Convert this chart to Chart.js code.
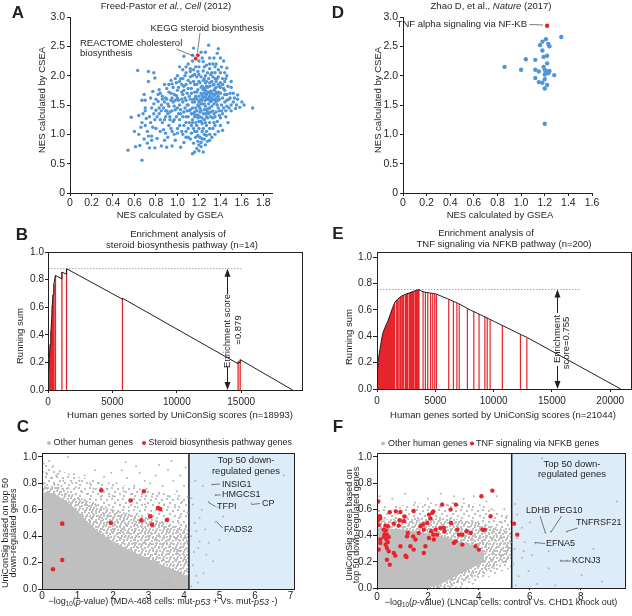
<!DOCTYPE html>
<html>
<head>
<meta charset="utf-8">
<script src="https://cdn.jsdelivr.net/npm/chart.js@4.4.1/dist/chart.umd.min.js"></script>
<style>
html, body { margin: 0; padding: 0; background: #fff; }
#wrap { position: relative; width: 632px; height: 616px; overflow: hidden; }
canvas { position: absolute; }
</style>
</head>
<body>
<div id="wrap">
<canvas id="panelA"></canvas>
<canvas id="panelD"></canvas>
<canvas id="panelB"></canvas>
<canvas id="panelE"></canvas>
<canvas id="panelC"></canvas>
<canvas id="panelF"></canvas>
</div>
<script>
// ---- A: NES by GSEA (x) vs NES by CSEA (y), Freed-Pastor 2012 gene sets
var nesA = [
  [0.54,0.73],[0.57,1.29],[0.61,0.79],[0.65,0.81],[0.63,2.09],[0.67,0.56],[0.71,1.27],[0.73,2.07],[0.78,2.05],[0.79,1.96],
  [0.73,1.9],[0.74,0.77],[0.79,0.77],[0.72,1.05],[0.73,0.97],[0.76,0.97],[0.77,1.12],[0.78,1.52],[0.75,1.62],[0.77,1.73],
  [0.8,1.41],[0.82,1.56],[0.83,1.76],[0.8,1.1],[0.81,0.93],[0.85,0.8],[0.88,0.9],[0.9,0.78],[0.95,0.8],[0.98,0.9],
  [1.03,0.78],[1.06,0.86],[1.14,0.67],[1.16,0.7],[1.18,0.76],[1.2,0.72],[1.22,0.79],[1.24,0.7],[1.19,0.88],[1.21,0.95],
  [1.23,0.92],[1.25,1.0],[1.27,1.05],[1.3,1.0],[1.33,1.1],[1.42,1.07],[1.46,2.13],[1.43,2.25],[1.38,2.46],[1.29,2.52],
  [1.15,2.47],[1.06,2.33],[1.07,2.0],[1.7,1.45],[1.58,1.46],[1.54,1.44],[1.56,1.67],[1.56,1.6],[1.49,1.7],[1.49,1.62],
  [1.5,1.5],[1.47,1.82],[1.45,1.95],[1.4,2.05],[1.37,2.38],[1.33,2.2],[1.3,2.3],[1.27,2.18],[1.24,2.24],[1.12,2.12],
  [1.12,2.07],[1.19,2.07],[1.0,2.0],[0.98,1.95],[0.95,1.86],[0.9,1.78],[0.88,1.85],[0.86,1.65],[0.87,1.45],[0.89,1.3],
  [0.86,1.2],[0.92,1.15],[0.95,1.05],[0.97,1.0],[1.0,1.1],[1.02,1.15],[1.05,1.0],[1.08,1.05],[1.1,0.95],[1.13,1.02],
  [1.15,1.1],[1.17,1.2],[0.67,1.58],[0.7,1.45],[0.69,1.68],[0.75,1.2],[0.7,1.15],[0.64,1.32],
  [1.1,1.3],[1.12,1.42],[1.14,1.55],[1.16,1.38],[1.18,1.6],[1.2,1.48],[1.22,1.7],[1.24,1.35],[1.26,1.58],[1.28,1.8],
  [1.3,1.65],[1.32,1.9],[1.34,1.75],[1.36,1.55],[1.38,1.85],[1.4,1.7],[1.11,1.65],[1.13,1.78],[1.15,1.9],[1.17,1.45],
  [1.19,1.33],[1.21,1.58],[1.23,1.82],[1.25,1.95],[1.27,1.42],[1.29,1.52],[1.31,1.38],[1.33,1.6],[1.35,1.68],[1.37,1.95],
  [1.39,1.6],[1.41,1.5],[1.1,1.5],[1.12,1.88],[1.14,1.25],[1.16,1.72],[1.18,1.85],[1.2,1.22],[1.22,1.4],[1.24,1.63],
  [1.26,1.75],[1.28,1.28],[1.3,1.82],[1.32,1.48],[1.34,1.35],[1.36,1.8],[1.38,1.72],[1.4,1.88],[1.25,1.52],[1.27,1.68],
  [1.29,1.95],[1.31,2.02],[1.33,1.98],[1.35,2.05],[1.28,2.05],[1.26,1.88],[1.22,1.98],[1.2,1.9],[1.18,1.72],[1.16,1.55],
  [1.14,1.45],[1.12,1.6],[1.19,1.5],[1.21,1.3],[1.23,1.52],[1.3,1.45],[1.32,1.7],[1.34,1.85],[1.36,1.62],[1.38,1.45],
  [1.42,1.62],[1.43,1.78],[1.44,1.55],[1.45,1.4],[1.42,1.35],[1.4,1.28],[1.37,1.22],[1.35,1.15],[1.33,1.28],[1.3,1.2],
  [1.27,1.15],[1.25,1.25],[1.23,1.18],[1.2,1.1],[1.18,1.05],[1.24,1.1],[1.28,1.38],[1.3,1.58],[1.26,1.35],[1.22,1.6],
  [1.16,1.85],[1.14,2.0],[1.18,1.98],[1.24,2.08],[1.3,2.12],[1.35,1.95],[1.29,1.72],[1.27,1.6],[1.17,1.65],[1.15,1.35],
  [1.13,1.15],[1.11,1.2],
  [0.9,1.6],[0.92,1.48],[0.94,1.7],[0.96,1.55],[0.98,1.42],[1.0,1.62],[1.02,1.5],[1.04,1.72],[1.06,1.38],[1.08,1.58],
  [0.91,1.35],[0.93,1.25],[0.95,1.4],[0.97,1.68],[0.99,1.3],[1.01,1.8],[1.03,1.35],[1.05,1.55],[1.07,1.45],[1.09,1.7],
  [0.88,1.55],[0.9,1.4],[0.94,1.58],[0.96,1.22],[1.0,1.45],[1.02,1.25],[1.04,1.6],[1.06,1.82],[1.08,1.3],[1.0,1.75],
  [0.98,1.58],[0.96,1.8],[0.92,1.72],[0.85,1.5],[0.83,1.35],[0.84,1.25],[0.8,1.6],[0.82,1.68],[0.78,1.35],[0.79,1.25],
  [0.76,1.45],[0.74,1.3],[0.7,1.4],[0.68,1.35],[0.7,1.58],[0.67,1.2],[0.66,1.12],[0.64,1.0],[0.6,1.05],[0.69,0.92],
  [0.72,0.85],[0.76,0.9],[0.84,1.05],[0.87,1.08],[0.89,1.02],[0.91,0.95],[0.94,1.1],[1.06,1.15],[1.08,1.2],[1.1,1.1],
  [1.44,1.68],[1.46,1.58],[1.48,1.45],[1.44,1.9],[1.46,2.0],[1.5,1.4],[1.52,1.55],[1.55,1.5],[1.42,1.95],[1.41,2.15],
  [1.38,2.1],[1.36,2.2],[1.34,2.3],[1.4,1.15],[1.38,1.05],[1.45,1.3],[1.47,1.2],[1.35,1.0],[1.32,0.95],[1.28,0.88],
  [1.26,0.82],[1.2,0.82],[1.22,0.86],[1.05,1.95],[1.08,2.05],[1.1,1.92],[1.02,2.15],[1.1,2.2],[1.15,2.1],[1.2,2.15],
  [1.23,2.3],[1.26,2.4],[1.14,2.25],
  [1.17,1.62],[1.19,1.76],[1.21,1.88],[1.23,1.66],[1.25,1.78],[1.27,1.9],[1.29,1.62],[1.31,1.74],[1.33,1.84],[1.35,1.58],
  [1.37,1.7],[1.39,1.82],[1.21,1.44],[1.23,1.58],[1.25,1.7],[1.27,1.82],[1.29,1.44],[1.31,1.56],[1.33,1.68],[1.35,1.78],
  [1.37,1.5],[1.39,1.4],[1.2,1.55],[1.22,1.8],[1.24,1.92],[1.26,1.64],[1.28,1.72],[1.3,1.88],[1.32,1.62],[1.34,1.52],
  [1.36,1.9],[1.38,1.65],[1.4,1.8],[1.18,1.4],[1.2,1.65],[1.22,1.52],[1.24,1.76],[1.26,1.48],[1.28,1.6],[1.3,1.7],
  [1.32,1.58],[1.34,1.66],[1.36,1.72],[1.38,1.58],[1.16,1.3],[1.19,1.28],[1.23,1.28],[1.27,1.3],[1.31,1.3],[1.35,1.3],
  [1.15,1.6],[1.13,1.7],[1.11,1.4],[1.09,1.5],[1.07,1.62],[1.05,1.68],[1.03,1.42],[1.01,1.58],[0.99,1.66],[0.97,1.48],
  [0.95,1.62],[0.93,1.38],[0.91,1.52],[0.89,1.62],[1.1,1.78],[1.08,1.85],[1.06,1.75],[1.04,1.85],[1.02,1.9],[1.12,1.98],
  [1.16,2.02],[1.2,2.02],[1.26,2.0],[1.32,2.05],[1.38,1.98],[1.42,1.85],[1.44,1.75],[1.46,1.68],[1.48,1.6],[1.46,1.48],
  [1.43,1.45],[1.41,1.4],[1.39,1.32],[1.36,1.38],[1.33,1.4],[1.29,1.35],[1.25,1.42],[1.21,1.38],[1.17,1.32],[1.13,1.35],
  [1.09,1.4],[1.05,1.3],[1.01,1.35],[0.97,1.25],[0.93,1.3],[0.89,1.4],[1.14,1.2],[1.18,1.15],[1.22,1.22],[1.26,1.2],
  [1.3,1.1],[1.34,1.2],[1.27,0.98],[1.23,1.05],[1.19,0.98],[1.16,1.05],[1.12,0.92],[1.08,0.95],[1.04,1.05],[1.0,1.02],
  [1.15,0.85],[1.25,0.92],[1.3,0.9],[1.17,0.95],[1.35,2.15],[1.3,2.2],[1.25,2.15],[1.2,2.25],[1.17,2.15],[1.14,2.35],
  [1.22,2.4],[1.4,2.3],[1.44,2.05],[1.5,1.8],[1.52,1.7],[1.53,1.62],[1.5,1.9],[1.6,1.55],[1.62,1.5],[0.85,1.4],
  [0.83,1.45],[0.81,1.3],[0.88,1.25],[0.86,1.6],[0.84,1.7],[0.92,1.85],[0.94,1.92],[0.99,1.88],[1.03,1.95],[1.08,2.15],
  [1.05,2.1]
];
var nesAHighlight = [[1.19,2.35],[1.17,2.29]];   // KEGG steroid / REACTOME cholesterol
var ticksNesY = [0, 0.5, 1, 1.5, 2, 2.5, 3];
var ticksA_x = [0, 0.2, 0.4, 0.6, 0.8, 1.0, 1.2, 1.4, 1.6, 1.8];

// ---- D: same comparison, Zhao 2017 gene sets
var nesD = [
  [0.86,2.15],[1.0,2.1],[1.04,2.28],[1.12,2.27],[1.12,2.1],[1.15,2.07],[1.12,1.96],[1.15,1.89],[1.18,1.88],[1.2,1.94],
  [1.22,1.84],[1.2,1.78],[1.16,2.52],[1.18,2.58],[1.21,2.62],[1.23,2.54],[1.24,2.5],[1.18,2.43],[1.19,2.32],[1.22,2.34],
  [1.22,2.21],[1.19,2.15],[1.2,2.1],[1.22,2.07],[1.24,2.08],[1.23,2.04],[1.21,2.05],[1.28,2.01],[1.34,2.66],[1.2,1.18],
  [1.2,2.02]
];
var nesDHighlight = [[1.22,2.85]];   // TNF alpha signaling via NF-KB
var ticksD_x = [0, 0.2, 0.4, 0.6, 0.8, 1.0, 1.2, 1.4, 1.6];

// ---- B: running enrichment sum, steroid biosynthesis (n=14)
var runSumB = [[0,0],[40,0.11],[100,0.22],[170,0.33],[230,0.43],[290,0.52],[330,0.61],[390,0.69],[460,0.77],[580,0.83],
  [1080,0.805],[1080,0.855],[1440,0.838],[1440,0.879],[5780,0.658],[5780,0.665],[14760,0.19],[14760,0.205],
  [14920,0.197],[14920,0.22],[18993,0]];
var hitsB = [[40,0.11],[100,0.22],[170,0.33],[230,0.43],[290,0.52],[330,0.61],[390,0.69],[460,0.77],[580,0.83],
  [1080,0.855],[1440,0.879],[5780,0.665],[14760,0.205],[14920,0.22]];
var esB = 0.879;
var ticksRun_y = [0, 0.2, 0.4, 0.6, 0.8, 1.0];
var ticksB_x = [0, 5000, 10000, 15000];

// ---- E: running enrichment sum, TNF signaling via NFKB (n=200)
var runSumE = [[0,0],[30,0.12],[110,0.22],[250,0.3],[480,0.42],[700,0.47],[950,0.52],[1150,0.57],[1350,0.62],[1550,0.66],
  [1800,0.685],[2100,0.705],[2450,0.72],[2800,0.73],[3150,0.742],[3400,0.75],[3600,0.755],[3850,0.74],[4300,0.732],
  [4800,0.725],[5100,0.72],[6100,0.683],[7000,0.648],[8000,0.6],[9000,0.558],[10000,0.515],[10800,0.48],[12300,0.415],
  [12900,0.39],[20900,0]];
var denseHitsEndE = 1550;   // hits are contiguous up to this rank
var hitsE = [[1650,0.67],[1760,0.68],[1880,0.69],[2000,0.70],[2080,0.705],[2200,0.71],[2300,0.715],[2450,0.72],
  [2540,0.722],[2620,0.725],[2760,0.73],[2850,0.732],[2950,0.735],[3050,0.74],[3120,0.742],[3250,0.745],[3320,0.748],
  [3400,0.75],[3470,0.752],[3540,0.754],[3600,0.755],[3950,0.738],[4150,0.735],[4350,0.732],[4600,0.728],[4780,0.725],
  [4950,0.722],[5100,0.72],[6150,0.68],[6550,0.665],[6850,0.652],[7050,0.645],[7750,0.612],[8300,0.59],[8750,0.57],
  [9250,0.55],[9450,0.542],[9700,0.532],[10750,0.482],[12300,0.415],[12850,0.39]];
var esE = 0.755;
var ticksE_x = [0, 5000, 10000, 15000, 20000];

// ---- C: -log10 p (MDA-468) vs UniConSig score
var pathwayC = [[0.31,0.15],[0.57,0.22],[0.57,0.495],[1.67,0.747],[1.94,0.50],[2.5,0.67],[2.87,0.74],[2.8,0.52],
  [3.05,0.55],[3.1,0.487],[3.27,0.613],[3.33,0.605],[3.52,0.523]];
var otherC = [
  [0.05,0.95],[0.2,0.97],[0.31,0.93],[0.12,0.88],[0.4,0.86],[0.5,0.89],[0.73,1.0],[0.6,0.82],[0.25,0.84],[0.08,0.8],
  [0.85,0.8],[0.9,0.87],[0.35,0.79],[0.15,0.76],[0.55,0.78],[0.7,0.76],[0.95,0.77],
  [1.05,0.82],[1.2,0.86],[1.35,0.8],[1.5,0.9],[1.1,0.74],[1.3,0.72],[1.45,0.76],[1.6,0.8],[1.75,0.85],[1.85,0.76],
  [1.95,0.88],[1.65,0.7],[1.9,0.7],[1.25,0.66],[1.5,0.64],[1.8,0.62],
  [2.1,0.8],[2.25,0.9],[2.4,0.84],[2.6,0.78],[2.75,0.88],[2.9,0.82],[2.05,0.7],[2.3,0.74],[2.55,0.72],[2.8,0.7],
  [2.95,0.76],[2.2,0.64],[2.45,0.62],[2.7,0.62],[2.9,0.64],[2.35,0.96],[2.65,0.93],
  [3.05,0.8],[3.2,0.86],[3.4,0.78],[3.55,0.9],[3.7,0.82],[3.9,0.86],[4.05,0.92],[3.1,0.7],[3.3,0.72],[3.6,0.7],
  [3.8,0.74],[4.0,0.78],[3.45,0.64],[3.75,0.62],[3.95,0.66],[4.1,0.7],[3.65,0.97],[3.3,0.94],[4.1,0.58],[3.9,0.55],
  [4.05,0.48],[3.85,0.5],[3.2,0.1],[3.6,0.08],[3.9,0.12],[4.05,0.2],[3.8,0.3],[4.1,0.35],[3.4,0.05],[3.7,0.02],[4.0,0.04],
  [4.21,0.69],[4.25,0.64],[4.53,0.78],[4.79,0.79],[4.89,0.71],[4.7,0.66],[4.89,0.51],[5.9,0.65],[6.81,0.86],[4.44,0.54],
  [4.35,0.44],[4.44,0.36],[4.4,0.31],[4.82,0.21],[5.0,0.37],[4.63,0.26],[4.25,0.18],[4.35,0.1],[4.21,0.02],[4.3,0.5],
  [4.6,0.45],[4.5,0.6],[4.28,0.28],[4.55,0.12],[5.1,0.55],[4.95,0.62],[4.32,0.82],[4.2,0.4],[4.7,0.35],[4.4,0.05]
];
// outlines of the grey point cloud (light, medium and solid density)
var cloudC_light = [[0,0],[0,0.95],[0.5,0.9],[1,0.85],[2,0.8],[3,0.75],[4.14,0.7],[4.14,0]];
var cloudC_mid = [[0,0],[0,0.8],[0.5,0.77],[1,0.7],[1.5,0.64],[2,0.6],[2.5,0.57],[3,0.54],[3.5,0.5],[4.14,0.45],[4.14,0]];
var cloudC_core = [[0,0],[0,0.73],[0.2,0.73],[0.4,0.71],[0.6,0.68],[0.8,0.64],[1.0,0.59],[1.2,0.53],[1.4,0.48],
  [1.6,0.43],[2,0.36],[2.5,0.29],[3,0.23],[3.5,0.17],[4,0.11],[4.14,0.09],[4.14,0]];
var topCutC = 4.14;
var ticksC_x = [0, 1, 2, 3, 4, 5, 6, 7];

// ---- F: -log10 p (LNCap) vs UniConSig score
var pathwayF = [[0.05,0.66],[0.03,0.515],[0.11,0.547],[0.13,0.53],[0.07,0.48],[0.5,0.578],[0.74,0.585],[0.92,0.58],
  [1.08,0.545],[1.05,0.51],[1.44,0.588],[0.89,0.517],[0.85,0.476],[0.66,0.491],[0.43,0.471],[0.33,0.476],[0.26,0.445],
  [0.39,0.407],[0.46,0.39],[0.37,0.37],[0.34,0.33],[0.39,0.305],[0.46,0.28],[0.13,0.37],[0.13,0.344],[0.07,0.293],
  [0.39,0.216],[0.5,0.178],[0.66,0.267],[0.72,0.247],[0.92,0.318],[1.12,0.247],[1.16,0.237],[1.31,0.318],[1.44,0.293],
  [1.51,0.37],[1.42,0.394],[1.18,0.394],[1.21,0.42],[1.64,0.42],[1.71,0.471],[1.81,0.484],[1.84,0.445],[1.97,0.496],
  [2.04,0.56],[2.17,0.573],[2.1,0.53],[2.21,0.585],[2.13,0.433],[2.21,0.407],[2.04,0.382],[2.23,0.37],[1.9,0.318],
  [1.84,0.267],[2.3,0.445],[2.36,0.407],[2.49,0.458],[2.63,0.458],[2.65,0.433],[2.56,0.636],[2.89,0.598],[2.91,0.496],
  [3.1,0.636],[3.15,0.445],[3.02,0.344],[3.09,0.356],[3.22,0.407],[3.35,0.407],[3.35,0.331],[3.52,0.433],[3.68,0.42],
  [3.87,0.318],[4.0,0.293],[4.1,0.7],[4.14,0.445],[4.23,0.445],[4.46,0.547],[4.53,0.743],[5.38,0.491],[5.51,0.407],
  [0.3,0.41],[0.27,0.39],[0.35,0.44],[0.42,0.35]];
var otherF = [
  [0.1,0.7],[0.6,0.68],[1.11,0.72],[1.5,0.65],[2.0,0.68],[2.5,0.72],[3.02,0.7],[3.4,0.68],[3.8,0.7],[4.3,0.66],
  [4.7,0.7],[5.0,0.6],[4.9,0.5],[5.1,0.55],[2.8,0.63],[1.8,0.62],[0.9,0.61],[3.6,0.62],[4.5,0.6],[5.2,0.45],
  [5.25,0.35],[5.15,0.3],[4.9,0.25],[5.0,0.2],[4.6,0.15],
  [6.48,0.99],[9.42,0.66],[6.61,0.42],[6.83,0.43],[7.46,0.43],[6.22,0.34],[7.22,0.21],[7.46,0.21],[5.69,0.23],[5.95,0.13],
  [5.43,0.64],[5.5,0.56],[5.76,0.28],[6.08,0.25],[6.74,0.15],[5.56,0.09],[8.04,0.1],[8.83,0.05],[6.28,0.03],[7.0,0.02],
  [5.69,0.46],[6.74,0.28],[5.4,0.3],[5.5,0.38],[5.8,0.35],[6.0,0.5],[7.3,0.33],[5.35,0.18],[5.45,0.02],[8.5,0.3]
];
var cloudF_light = [[0,0],[0,0.62],[1,0.63],[2,0.65],[3,0.66],[4,0.64],[4.8,0.58],[5.29,0.52],[5.29,0.15],[4.8,0.12],
  [4,0.05],[3.5,0]];
var cloudF_mid = [[0,0],[0,0.52],[1,0.53],[2,0.54],[3,0.53],[4,0.5],[4.8,0.46],[5.29,0.42],[5.29,0.22],[4.8,0.18],
  [4,0.1],[3.3,0.04],[2.8,0]];
var cloudF_core = [[0,0],[0,0.46],[0.8,0.45],[1.6,0.43],[2.4,0.4],[3.2,0.36],[3.8,0.32],[4.2,0.28],[4.2,0.2],[3.6,0.14],
  [3,0.08],[2.4,0.02],[2,0]];
var topCutF = 5.29;
var ticksF_x = [0, 2, 4, 6, 8];

// ---------------------------------------------------------------------------
var INK = '#231f20';
var BLUE = '#4f95da';
var RED = '#e8242b';
var GREY = '#bfbfbf';
var SKY = '#dcedf9';
var FONT = '"Liberation Sans", Arial, sans-serif';
var UP = -Math.PI / 2;

function pts(a) { return a.map(function (p) { return {x: p[0], y: p[1]}; }); }

function dots(a, r, color, order) {
  return {data: pts(a), pointRadius: r, pointBackgroundColor: color, pointBorderWidth: 0,
    borderWidth: 0, order: order};
}
function path(a, color, width, order, dash) {
  return {data: pts(a), showLine: true, pointRadius: 0, borderColor: color, borderWidth: width,
    borderDash: dash || [], fill: false, order: order};
}
function area(a, fillStyle, order, mode) {
  return {data: pts(a), showLine: true, pointRadius: 0, borderWidth: 0, borderColor: 'rgba(0,0,0,0)',
    backgroundColor: fillStyle, fill: mode || 'shape', order: order};
}
function spikes(hits, color, width, order) {
  var d = [];
  hits.forEach(function (h) {
    d.push({x: h[0], y: 0}, {x: h[0], y: h[1]}, {x: h[0], y: null});
  });
  return {data: d, showLine: true, spanGaps: false, pointRadius: 0, borderColor: color,
    borderWidth: width, fill: false, order: order};
}

function speckle(n, spots) {
  var c = document.createElement('canvas');
  c.width = n; c.height = n;
  var g = c.getContext('2d');
  g.fillStyle = GREY;
  spots.forEach(function (s) { g.fillRect(s[0], s[1], 2, 2); });
  return g.createPattern(c, 'repeat');
}
var lightDots = speckle(11, [[1, 1], [7, 2], [4, 5], [9, 7], [2, 9]]);
var midDots = speckle(7, [[0, 0], [4, 1], [2, 3], [5, 4], [1, 5]]);

var fmtNes = function (v) { return v === 0 ? '0' : v.toFixed(1); };
var fmt1 = function (v) { return v.toFixed(1); };
var fmt0 = function (v) { return String(v); };

function scale(min, max, ticks, fmt, tl, pad, size, fixed, horiz) {
  return {
    type: 'linear', min: min, max: max,
    afterBuildTicks: function (s) { s.ticks = ticks.map(function (v) { return {value: v}; }); },
    afterFit: function (s) { if (horiz) s.height = fixed; else s.width = fixed; },
    grid: {drawOnChartArea: false, drawTicks: true, tickLength: tl, color: INK, lineWidth: 1},
    border: {display: true, color: INK, width: 1},
    ticks: {padding: pad, color: INK, font: {family: FONT, size: size}, callback: fmt,
      maxRotation: 0, autoSkip: false}
  };
}

function drawRich(ctx, t, x, y, size, align, rot, bold) {
  var runs = typeof t === 'string' ? [[t, '']] : t;
  function font(f) {
    var sz = f.indexOf('s') >= 0 ? size * 0.7 : size;
    return (f.indexOf('i') >= 0 ? 'italic ' : '') + (bold ? 'bold ' : '') + sz + 'px ' + FONT;
  }
  var total = 0;
  runs.forEach(function (r) { ctx.font = font(r[1]); total += ctx.measureText(r[0]).width; });
  ctx.translate(x, y);
  ctx.rotate(rot || 0);
  var cx = align === 'center' ? -total / 2 : (align === 'right' ? -total : 0);
  ctx.fillStyle = INK;
  ctx.textBaseline = 'middle';
  ctx.textAlign = 'left';
  runs.forEach(function (r) {
    ctx.font = font(r[1]);
    ctx.fillText(r[0], cx, r[1].indexOf('s') >= 0 ? size * 0.3 : 0);
    cx += ctx.measureText(r[0]).width;
  });
}

// texts, leader lines and legend dots, given in page pixels
function notesPlugin(items, ox, oy) {
  return {
    id: 'notes',
    afterDraw: function (chart) {
      var ctx = chart.ctx;
      items.forEach(function (it) {
        ctx.save();
        if (it.line) {
          ctx.strokeStyle = it.color || '#444';
          ctx.lineWidth = it.w || 0.7;
          ctx.beginPath();
          ctx.moveTo(it.line[0] - ox, it.line[1] - oy);
          ctx.lineTo(it.line[2] - ox, it.line[3] - oy);
          ctx.stroke();
        } else if (it.dot) {
          ctx.fillStyle = it.color;
          ctx.beginPath();
          ctx.arc(it.dot[0] - ox, it.dot[1] - oy, it.r || 2, 0, Math.PI * 2);
          ctx.fill();
        } else {
          drawRich(ctx, it.t, it.x - ox, it.y - oy, it.size || 9.5, it.align || 'center', it.rot, it.bold);
        }
        ctx.restore();
      });
    }
  };
}

var framePlugin = {
  id: 'frame',
  afterDatasetsDraw: function (chart) {
    var a = chart.chartArea, ctx = chart.ctx;
    ctx.save();
    ctx.strokeStyle = INK;
    ctx.lineWidth = 1;
    ctx.strokeRect(Math.round(a.left) + 0.5, Math.round(a.top) + 0.5,
      Math.round(a.right - a.left), Math.round(a.bottom - a.top));
    ctx.restore();
  }
};

// double arrow marking the enrichment score, broken where the label sits
function esArrowPlugin(at, es, gapTop, gapBottom, oy) {
  return {
    id: 'esArrow',
    afterDatasetsDraw: function (chart) {
      var ctx = chart.ctx;
      var x = Math.round(chart.scales.x.getPixelForValue(at)) + 0.5;
      var y1 = chart.scales.y.getPixelForValue(es);
      var y0 = chart.scales.y.getPixelForValue(0);
      ctx.save();
      ctx.strokeStyle = INK; ctx.fillStyle = INK; ctx.lineWidth = 1;
      ctx.beginPath();
      ctx.moveTo(x, y1 + 6); ctx.lineTo(x, gapTop - oy);
      ctx.moveTo(x, gapBottom - oy); ctx.lineTo(x, y0 - 6);
      ctx.stroke();
      ctx.beginPath();
      ctx.moveTo(x, y1); ctx.lineTo(x - 3, y1 + 8); ctx.lineTo(x + 3, y1 + 8); ctx.closePath();
      ctx.moveTo(x, y0); ctx.lineTo(x - 3, y0 - 8); ctx.lineTo(x + 3, y0 - 8); ctx.closePath();
      ctx.fill();
      ctx.restore();
    }
  };
}

function panel(id, box, pad, scales, datasets, notes, extra) {
  var cv = document.getElementById(id);
  cv.style.left = box[0] + 'px';
  cv.style.top = box[1] + 'px';
  cv.width = box[2];
  cv.height = box[3];
  return new Chart(cv, {
    type: 'scatter',
    data: {datasets: datasets},
    options: {
      responsive: false, animation: false, events: [],
      layout: {padding: pad},
      scales: scales,
      plugins: {legend: {display: false}, tooltip: {enabled: false}}
    },
    plugins: [notesPlugin(notes, box[0], box[1])].concat(extra || [])
  });
}

// ---- A
panel('panelA', [0, 0, 316, 222], {left: 30, top: 17, right: 44, bottom: 9}, {
  x: scale(0, 1.88, ticksA_x, fmtNes, 3, 1, 10.5, 20, true),
  y: scale(0, 3, ticksNesY, fmtNes, 3, 2, 10.5, 40, false)
}, [
  dots(nesAHighlight, 1.9, RED, 0),
  dots(nesA, 1.7, BLUE, 1)
], [
  {t: 'A', x: 18, y: 13, size: 17, bold: true},
  {t: [['Freed-Pastor ', ''], ['et al.', 'i'], [', ', ''], ['Cell', 'i'], [' (2012)', '']], x: 166, y: 6},
  {t: 'NES calculated by CSEA', x: 42, y: 100, rot: UP},
  {t: 'NES calculated by GSEA', x: 170, y: 215},
  {t: 'KEGG steroid biosynthesis', x: 150.5, y: 28, align: 'left'},
  {line: [200, 33, 197.5, 52.5]},
  {t: 'REACTOME cholesterol', x: 80, y: 43.5, align: 'left'},
  {t: 'biosynthesis', x: 80, y: 53.5, align: 'left'},
  {line: [176.5, 49, 194.5, 56.5]}
]);

// ---- D
panel('panelD', [316, 0, 316, 222], {left: 47, top: 17, right: 40, bottom: 9}, {
  x: scale(0, 1.6, ticksD_x, fmtNes, 3, 1, 10.5, 20, true),
  y: scale(0, 3, ticksNesY, fmtNes, 3, 2, 10.5, 40, false)
}, [
  dots(nesDHighlight, 2.2, RED, 0),
  dots(nesD, 2.2, BLUE, 1)
], [
  {t: 'D', x: 338, y: 13, size: 17, bold: true},
  {t: [['Zhao D, et al., ', ''], ['Nature', 'i'], [' (2017)', '']], x: 491, y: 6},
  {t: 'NES calculated by CSEA', x: 378, y: 100, rot: UP},
  {t: 'NES calculated by GSEA', x: 500, y: 215},
  {t: 'TNF alpha signaling via NF-KB', x: 527, y: 24.5, align: 'right'},
  {line: [529.5, 24.5, 543, 25]}
]);

// ---- B
panel('panelB', [0, 222, 316, 198], {left: 8, top: 30, right: 14, bottom: 10}, {
  x: scale(0, 19720, ticksB_x, fmt0, 3, 3, 10, 20, true),
  y: scale(0, 1, ticksRun_y, fmt1, 3, 1, 10, 40, false)
}, [
  path(runSumB, INK, 1, 0),
  spikes(hitsB, RED, 1.3, 1),
  path([[0, esB], [15000, esB]], '#8a8a8a', 0.8, 2, [1.5, 1.5])
], [
  {t: 'B', x: 22, y: 235, size: 17, bold: true},
  {t: 'Enrichment analysis of', x: 178, y: 234},
  {t: 'steroid biosynthesis pathway (n=14)', x: 182, y: 245},
  {t: 'Running sum', x: 20, y: 336, rot: UP},
  {t: 'Human genes sorted by UniConSig scores (n=18993)', x: 180, y: 415},
  {t: 'Enrichment score', x: 227.5, y: 331, rot: UP},
  {t: '=0.879', x: 238, y: 330, rot: UP}
], [framePlugin, esArrowPlugin(13900, esB, 294, 367, 222)]);

// ---- E
panel('panelE', [316, 222, 316, 198], {left: 21, top: 30, right: 1, bottom: 11}, {
  x: scale(0, 21780, ticksE_x, fmt0, 3, 3, 10, 20, true),
  y: scale(0, 1.04, ticksRun_y, fmt1, 4, 1, 10, 40, false)
}, [
  path(runSumE, INK, 1, 0),
  spikes(hitsE, RED, 1.2, 1),
  area(runSumE.filter(function (p) { return p[0] <= denseHitsEndE; }), RED, 2, 'origin'),
  path([[0, esE], [17400, esE]], '#8a8a8a', 0.8, 3, [1.5, 1.5])
], [
  {t: 'E', x: 338, y: 234, size: 17, bold: true},
  {t: 'Enrichment analysis of', x: 486, y: 233},
  {t: 'TNF signaling via NFKB pathway (n=200)', x: 504, y: 244},
  {t: 'Running sum', x: 349, y: 337, rot: UP},
  {t: 'Human genes sorted by UniConSig scores (n=21044)', x: 503, y: 415},
  {t: 'Enrichment', x: 557.5, y: 339, rot: UP},
  {t: 'score=0.755', x: 566, y: 343, rot: UP}
], [framePlugin, esArrowPlugin(15400, esE, 313, 366, 222)]);

// ---- C
panel('panelC', [0, 420, 316, 196], {left: 2, top: 33, right: 22, bottom: 7}, {
  x: scale(0, 7.1, ticksC_x, fmt0, 0, 1, 10, 20, true),
  y: scale(0, 1.03, ticksRun_y, fmt1, 4, 1, 10, 40, false)
}, [
  dots(pathwayC, 2.3, RED, 0),
  dots(otherC, 1, '#b3b3b3', 1),
  path([[topCutC, 0], [topCutC, 1.03]], INK, 1.5, 2),
  area(cloudC_core, GREY, 3),
  area(cloudC_mid, midDots, 4),
  area(cloudC_light, lightDots, 5),
  area([[topCutC, 0], [topCutC, 1.03], [7.1, 1.03], [7.1, 0]], SKY, 6)
], [
  {t: 'C', x: 23, y: 427, size: 17, bold: true},
  {dot: [49, 443], r: 2, color: GREY},
  {t: 'Other human genes', x: 53.5, y: 443, align: 'left', size: 9},
  {dot: [144, 443], r: 2, color: RED},
  {t: 'Steroid biosynthesis pathway genes', x: 148.5, y: 443, align: 'left', size: 9},
  {t: 'Top 50 down-', x: 246, y: 460},
  {t: 'regulated genes', x: 246, y: 471},
  {t: 'INSIG1', x: 222, y: 484.5, align: 'left', size: 9},
  {line: [212, 484.5, 220, 484]},
  {t: 'HMGCS1', x: 222, y: 495, align: 'left', size: 9},
  {line: [215, 495, 220.5, 495]},
  {t: 'CP', x: 262, y: 504, align: 'left', size: 9},
  {line: [251.5, 504.5, 260, 503.5]},
  {t: 'TFPI', x: 217, y: 507, align: 'left', size: 9},
  {line: [208.5, 502.5, 215.5, 506.5]},
  {t: 'FADS2', x: 224, y: 529.5, align: 'left', size: 9},
  {line: [216.5, 521.5, 222.5, 528]},
  {t: 'UniConSig based on top 50', x: 5.5, y: 533, rot: UP, size: 9},
  {t: 'down-regulated genes', x: 13.5, y: 533, rot: UP, size: 9},
  {t: [['\u2212log', ''], ['10', 's'], ['(', ''], ['p', 'i'], ['-value) (MDA-468 cells: mut-', ''], ['p53', 'i'],
    [' + Vs. mut-', ''], ['p53', 'i'], [' -)', '']], x: 163, y: 602, size: 9}
], [framePlugin]);

// ---- F
panel('panelF', [316, 420, 316, 196], {left: 21, top: 33, right: 7, bottom: 8}, {
  x: scale(0, 9.74, ticksF_x, fmt0, 2, 1, 10, 20, true),
  y: scale(0, 1.03, ticksRun_y, fmt1, 4, 1, 10, 40, false)
}, [
  dots(pathwayF, 2.2, RED, 0),
  dots(otherF, 1, '#b3b3b3', 1),
  path([[topCutF, 0], [topCutF, 1.03]], INK, 1.5, 2),
  area(cloudF_core, GREY, 3),
  area(cloudF_mid, midDots, 4),
  area(cloudF_light, lightDots, 5),
  area([[topCutF, 0], [topCutF, 1.03], [9.74, 1.03], [9.74, 0]], SKY, 6)
], [
  {t: 'F', x: 338, y: 427, size: 17, bold: true},
  {dot: [383, 443.5], r: 2, color: GREY},
  {t: 'Other human genes', x: 388, y: 443.5, align: 'left', size: 9},
  {dot: [472, 443.5], r: 2, color: RED},
  {t: 'TNF signaling via NFKB genes', x: 476, y: 443.5, align: 'left', size: 9},
  {t: 'Top 50 down-', x: 572, y: 464.5},
  {t: 'regulated genes', x: 572, y: 474.5},
  {t: 'LDHB', x: 538, y: 511, size: 9},
  {line: [540, 516, 545.5, 533]},
  {t: 'PEG10', x: 568, y: 511, size: 9},
  {line: [561.5, 516, 551, 532]},
  {t: 'TNFRSF21', x: 576, y: 522.5, align: 'left', size: 9},
  {line: [577.5, 528, 566.5, 531.5]},
  {t: 'EFNA5', x: 546, y: 544, align: 'left', size: 9},
  {line: [534.5, 542.5, 545, 543.5]},
  {t: 'KCNJ3', x: 572, y: 561, align: 'left', size: 9},
  {line: [560, 561, 571, 561]},
  {t: 'UniConSig scores based on', x: 349.5, y: 525, rot: UP, size: 9},
  {t: 'top 50 down-regulated genes', x: 356.5, y: 525, rot: UP, size: 9},
  {t: [['\u2212log', ''], ['10', 's'], ['(', ''], ['p', 'i'],
    ['-value) (LNCap cells: control Vs. CHD1 knock out)', '']], x: 501, y: 602.5, size: 9}
], [framePlugin]);
</script>
</body>
</html>
